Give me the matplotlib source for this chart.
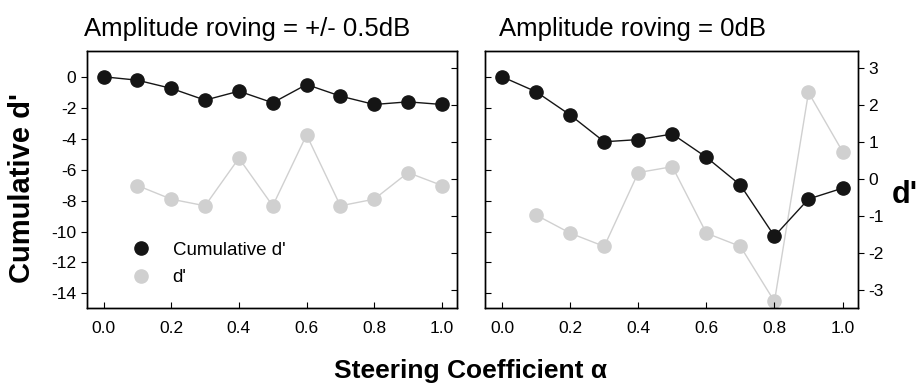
import matplotlib
matplotlib.use("Agg")
import matplotlib.pyplot as plt
from matplotlib.lines import Line2D

plt.rcParams["font.family"] = ["Liberation Sans", "DejaVu Sans"]
plt.rcParams["axes.unicode_minus"] = False

alpha = [0.0, 0.1, 0.2, 0.3, 0.4, 0.5, 0.6, 0.7, 0.8, 0.9, 1.0]
alpha_d = alpha[1:]

# amplitude roving +/- 0.5 dB
cum_rove = [0.0, -0.22, -0.75, -1.51, -0.93, -1.68, -0.50, -1.25, -1.79, -1.62, -1.79]
d_rove = [-0.17, -0.54, -0.72, 0.57, -0.72, 1.20, -0.72, -0.54, 0.18, -0.17]

# amplitude roving 0 dB
cum_flat = [0.0, -0.97, -2.47, -4.20, -4.06, -3.70, -5.20, -7.00, -10.30, -7.90, -7.20]
d_flat = [-0.97, -1.46, -1.82, 0.18, 0.34, -1.46, -1.82, -3.31, 2.35, 0.75]

titles = ["Amplitude roving = +/- 0.5dB", "Amplitude roving = 0dB"]
cum_ticks = [0, -2, -4, -6, -8, -10, -12, -14]
d_ticks = [3, 2, 1, 0, -1, -2, -3]
x_ticks = [0.0, 0.2, 0.4, 0.6, 0.8, 1.0]

BLACK = "#151515"
GRAY = "#d0d0d0"

fig = plt.figure(figsize=(9.17, 3.90), dpi=100)
positions = [[0.0945, 0.21, 0.404, 0.659], [0.529, 0.21, 0.4065, 0.659]]
title_x = [-0.007, 0.038]
panels = [(cum_rove, d_rove), (cum_flat, d_flat)]

for i, (pos, (cum, dp)) in enumerate(zip(positions, panels)):
    ax = fig.add_axes(pos)
    tw = ax.twinx()
    ax.set_zorder(tw.get_zorder() + 1)
    ax.patch.set_visible(False)

    tw.plot(alpha_d, dp, color=GRAY, lw=1.0, marker="o", ms=9.5,
            mfc=GRAY, mec=GRAY)
    ax.plot(alpha, cum, color=BLACK, lw=1.0, marker="o", ms=9.5,
            mfc=BLACK, mec=BLACK)

    ax.set_xlim(-0.05, 1.045)
    ax.set_ylim(-14.95, 1.66)
    tw.set_ylim(-3.49, 3.47)
    ax.set_xticks(x_ticks)
    ax.set_xticklabels([f"{v:.1f}" for v in x_ticks])
    ax.set_yticks(cum_ticks)
    tw.set_yticks(d_ticks)

    ax.tick_params(axis="x", direction="in", length=4, labelsize=12.5, pad=9)
    if i == 0:
        ax.tick_params(axis="y", direction="out", length=4, labelsize=12.5)
        tw.tick_params(axis="y", direction="in", length=4, labelright=False)
    else:
        ax.tick_params(axis="y", direction="in", length=4, labelleft=False)
        tw.tick_params(axis="y", direction="out", length=4, labelsize=12.5)
    for a in (ax, tw):
        for s in a.spines.values():
            s.set_linewidth(1.0)

    ax.text(title_x[i], 1.058, titles[i], transform=ax.transAxes,
            fontsize=18.5, ha="left", va="baseline")

    if i == 0:
        handles = [
            Line2D([], [], ls="none", marker="o", ms=9.5, color=BLACK),
            Line2D([], [], ls="none", marker="o", ms=9.5, color=GRAY),
        ]
        ax.legend(handles, ["Cumulative d'", "d'"], loc="lower left",
                  bbox_to_anchor=(0.05, 0.02), frameon=False, fontsize=13.5,
                  handletextpad=0.7, labelspacing=0.55)

fig.text(0.024, 0.518, "Cumulative d'", rotation=90, ha="center", va="center",
         fontsize=21, fontweight="bold")
fig.text(0.972, 0.50, "d'", ha="left", va="center", fontsize=22,
         fontweight="bold")
fig.text(0.513, 0.03, "Steering Coefficient \u03b1", ha="center",
         va="baseline", fontsize=19, fontweight="bold")

fig.savefig("out.png", dpi=100)
